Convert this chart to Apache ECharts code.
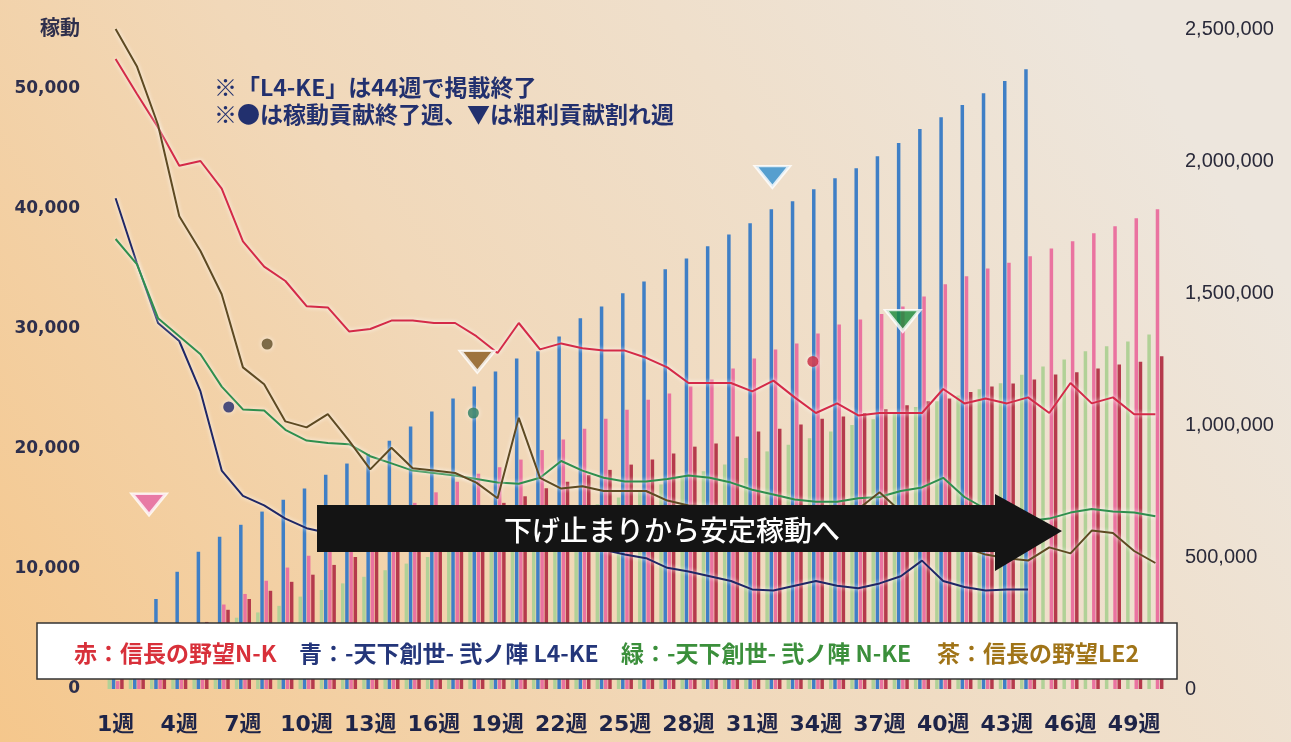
<!DOCTYPE html>
<html><head><meta charset="utf-8">
<script src="https://cdn.jsdelivr.net/npm/echarts/dist/echarts.min.js"></script>
<style>html,body{margin:0;padding:0;width:1291px;height:742px;overflow:hidden}#c{width:1291px;height:742px}</style>
</head><body><div id="c"></div>
<script>
// ---- categories ----
const weeks = ['1週','2週','3週','4週','5週','6週','7週','8週','9週','10週','11週','12週','13週','14週','15週','16週','17週','18週','19週','20週','21週','22週','23週','24週','25週','26週','27週','28週','29週','30週','31週','32週','33週','34週','35週','36週','37週','38週','39週','40週','41週','42週','43週','44週','45週','46週','47週','48週','49週','50週'];

// ---- weekly 稼動 (left axis) ----
const lineNK = [52500,49600,46800,43600,44000,41700,37300,35200,34000,31900,31800,29800,30000,30700,30700,30500,30500,29400,28000,30500,28300,28800,28400,28200,28200,27600,26800,25500,25500,25500,24800,25700,24300,23000,23800,22800,23000,23000,23000,25000,23800,24200,23800,24300,23000,25500,23800,24300,22900,22900];
const lineL4KE = [40900,35500,30500,29000,24800,18200,16100,15300,14200,13400,13000,12800,12700,12600,12500,12400,12300,12200,12100,12100,12000,11900,11800,11600,11200,10900,10100,9800,9400,9000,8300,8200,8600,9000,8600,8400,8800,9400,10700,9000,8500,8200,8300,8300,null,null,null,null,null,null];
const lineNKE = [37500,35400,30900,29400,27900,25200,23300,23200,21600,20700,20500,20400,19400,18800,18200,18000,17800,17500,17200,17100,17600,19000,18200,17600,17300,17300,17500,17800,17600,17200,16600,16200,15800,15600,15600,15900,16000,16500,16800,17600,16000,15000,14200,14000,14200,14700,15000,14800,14700,14400];
const lineLE2 = [55000,51900,47000,39400,36500,32900,26800,25400,22300,21800,22900,20700,18300,20100,18400,18200,18000,17200,15900,22600,17600,16700,16900,16500,16500,16500,15700,15300,15200,15000,15000,14900,14600,14800,14700,15000,16400,14800,13800,12800,11800,11200,10900,10700,11800,11300,13200,13000,11500,10500];

// ---- cumulative bars (right axis) ----
const barNK = [30000,60000,100000,190000,250000,320000,360000,410000,460000,505000,545000,585000,625000,665000,705000,745000,785000,815000,840000,869000,905000,945000,986000,1024000,1058000,1096000,1119000,1146000,1172000,1214000,1252000,1286000,1309000,1347000,1381000,1400000,1420000,1449000,1487000,1533000,1563000,1593000,1615000,1639000,1669000,1696000,1726000,1753000,1783000,1817000];
const barL4KE = [110000,230000,341000,444000,520000,577000,622000,672000,717000,759000,812000,854000,890000,940000,994000,1051000,1100000,1146000,1203000,1252000,1279000,1335000,1404000,1449000,1499000,1544000,1590000,1631000,1677000,1722000,1764000,1817000,1848000,1893000,1935000,1973000,2018000,2068000,2121000,2166000,2212000,2257000,2303000,2348000,null,null,null,null,null,null];
const barNKE = [50000,95000,140000,180000,215000,250000,270000,290000,315000,350000,375000,400000,425000,450000,475000,500000,525000,550000,575000,600000,625000,650000,675000,700000,725000,750000,775000,800000,825000,850000,875000,900000,925000,950000,975000,1000000,1022000,1045000,1068000,1090000,1112000,1135000,1158000,1190000,1222000,1248000,1279000,1298000,1316000,1343000];
const barLE2 = [40000,80000,120000,190000,254000,300000,341000,372000,406000,433000,470000,500000,530000,560000,590000,620000,650000,680000,705000,730000,760000,785000,810000,830000,850000,869000,892000,918000,930000,956000,975000,986000,1002000,1024000,1032000,1045000,1060000,1075000,1090000,1100000,1125000,1146000,1157000,1172000,1191000,1200000,1214000,1229000,1240000,1260000];

// ---- markers: ● 稼動貢献終了週, ▼ 粗利貢献割れ週 ----
const dotWeeks = ['6週','8週','18週','34週'];
const dotValues = [23500,28750,23000,27300];
const triWeeks = ['3週','18週','32週','38週'];
const triValues = [15400,27300,42700,30700];

// ---- axis ticks ----
const leftMax = 55000, leftStep = 10000;
const rightMax = 2500000, rightStep = 500000;

const dotColors = ['#1f2766','#5e4a22','#2a7a5e','#c8243c'];
const dotOffsets = [[7,0],[3,0],[-3,0],[-3,0]];
const triColors = ['#e564a6','#8a5a1e','#2f8fd0','#16893a'];
const triOffsets = [[-9,0],[1,0],[-1,0],[2,0]];

const chart = echarts.init(document.getElementById('c'));
const glow = {shadowColor:'rgba(255,255,255,0.95)', shadowBlur:4};
function lineSeries(name, data, color){
  return {name, type:'line', yAxisIndex:0, data, symbol:'none', z:5, connectNulls:false,
    lineStyle:Object.assign({color, width:2}, glow), itemStyle:{color}};
}
function barSeries(name, data, color){
  return {name, type:'bar', yAxisIndex:1, data, barWidth:3.5, barGap:'20%', z:2,
    itemStyle:{color}};
}
const fmt = v => v.toLocaleString('en-US');
const cjk = '"Noto Sans CJK JP", sans-serif';

const option = {
  backgroundColor:{type:'linear', x:0, y:1, x2:0.85, y2:0, colorStops:[
    {offset:0, color:'#f5c78c'},{offset:0.45, color:'#f1d8b9'},{offset:1, color:'#ede6dd'}]},
  animation:false,
  grid:{left:105, right:125, top:29, bottom:53},
  xAxis:{type:'category', data:weeks, boundaryGap:true,
    axisLine:{show:false}, axisTick:{show:false},
    axisLabel:{interval:2, margin:25, fontSize:22, fontWeight:'bold', color:'#1e2448',
      fontFamily:'"DejaVu Sans", "Noto Sans CJK JP", sans-serif'}},
  yAxis:[
    {type:'value', min:0, max:leftMax, interval:leftStep, position:'left',
      name:'稼動', nameLocation:'end', nameGap:2,
      nameTextStyle:{fontSize:20, fontWeight:'bold', color:'#2e2f4c', fontFamily:cjk, align:'right', padding:[0,25,0,0], verticalAlign:'middle'},
      axisLine:{show:false}, axisTick:{show:false}, splitLine:{show:false},
      axisLabel:{showMaxLabel:false, margin:25, fontSize:17, fontWeight:'bold', color:'#2e2f4c',
        fontFamily:'"DejaVu Sans", sans-serif', formatter:v => v > 50000 ? '' : fmt(v)}},
    {type:'value', min:0, max:rightMax, interval:rightStep, position:'right',
      axisLine:{show:false}, axisTick:{show:false}, splitLine:{show:false},
      axisLabel:{margin:19, fontSize:20, color:'#2a2a3a', fontFamily:'"Liberation Sans", Arial, sans-serif', formatter:fmt}}
  ],
  series:[
    barSeries('緑 N-KE 累計', barNKE, '#b1d197'),
    barSeries('青 L4-KE 累計', barL4KE, '#3f7fc6'),
    barSeries('赤 N-K 累計', barNK, '#ea73a0'),
    barSeries('茶 LE2 累計', barLE2, '#b53a4c'),
    lineSeries('赤：信長の野望N-K', lineNK, '#d42a48'),
    lineSeries('青：-天下創世- 弐ノ陣 L4-KE', lineL4KE, '#1f2766'),
    lineSeries('緑：-天下創世- 弐ノ陣 N-KE', lineNKE, '#2f8f4e'),
    lineSeries('茶：信長の野望LE2', lineLE2, '#5e4a22'),
    {name:'稼動貢献終了週', type:'scatter', yAxisIndex:0, z:6, symbol:'circle', symbolSize:11,
      data: dotWeeks.map((w,i)=>({value:[w, dotValues[i]], symbolOffset:dotOffsets[i],
        itemStyle:{color:dotColors[i], shadowColor:'rgba(255,255,255,0.9)', shadowBlur:5}}))},
    {name:'粗利貢献割れ週', type:'scatter', yAxisIndex:0, z:6, symbol:'triangle', symbolRotate:180, symbolSize:[34,21],
      data: triWeeks.map((w,i)=>({value:[w, triValues[i]], symbolOffset:triOffsets[i],
        itemStyle:{color:triColors[i], borderColor:'#ffffff', borderWidth:3}}))}
  ],
  graphic:[
    {type:'text', z:100, left:214, top:76, style:{text:'※「L4-KE」は44週で掲載終了', fill:'#22306e', font:'bold 23px "Noto Sans CJK JP"'}},
    {type:'text', z:100, left:214, top:103, style:{text:'※●は稼動貢献終了週、▼は粗利貢献割れ週', fill:'#22306e', font:'bold 23px "Noto Sans CJK JP"'}},
    {type:'polygon', z:100, shape:{points:[[317,505],[995,505],[995,494],[1062,531],[995,571],[995,552],[317,552]]}, style:{fill:'#141414'}},
    {type:'text', z:101, x:672, y:530, style:{text:'下げ止まりから安定稼動へ', fill:'#ffffff', font:'500 28px "Noto Sans CJK JP"', align:'center', verticalAlign:'middle'}},
    {type:'rect', z:100, shape:{x:37, y:623, width:1140, height:56}, style:{fill:'#ffffff', stroke:'#333333', lineWidth:1.5}},
    {type:'text', z:101, x:74, y:653, style:{text:'赤：信長の野望N-K', fill:'#d8303a', font:'bold 23px "Noto Sans CJK JP"', verticalAlign:'middle'}},
    {type:'text', z:101, x:299, y:653, style:{text:'青：-天下創世- 弐ノ陣 L4-KE', fill:'#24367a', font:'bold 23px "Noto Sans CJK JP"', verticalAlign:'middle'}},
    {type:'text', z:101, x:621, y:653, style:{text:'緑：-天下創世- 弐ノ陣 N-KE', fill:'#3b8f3b', font:'bold 23px "Noto Sans CJK JP"', verticalAlign:'middle'}},
    {type:'text', z:101, x:937, y:653, style:{text:'茶：信長の野望LE2', fill:'#a07418', font:'bold 23px "Noto Sans CJK JP"', verticalAlign:'middle'}}
  ]
};
chart.setOption(option);
</script></body></html>
